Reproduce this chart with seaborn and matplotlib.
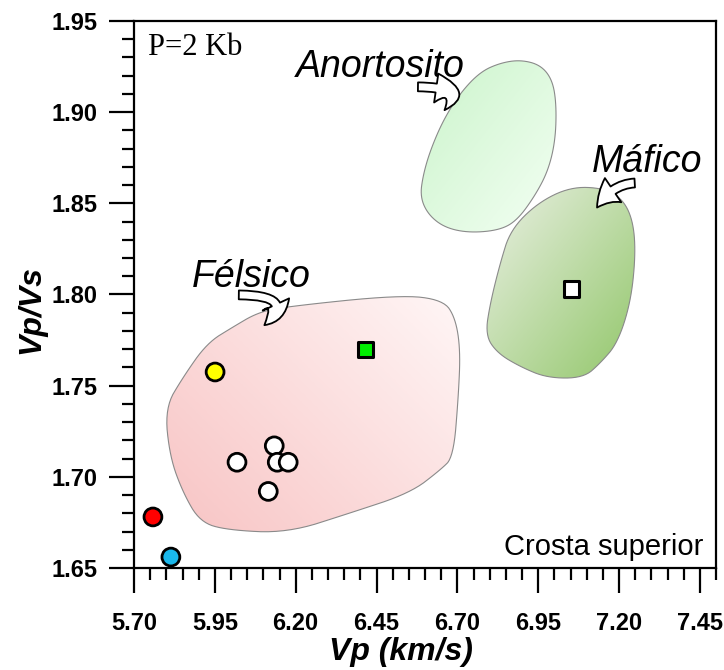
import numpy as np
import pandas as pd
import matplotlib
matplotlib.use("Agg")
import matplotlib.pyplot as plt
import seaborn as sns
from matplotlib.patches import Polygon, FancyArrowPatch
from matplotlib.colors import LinearSegmentedColormap
from matplotlib.ticker import MultipleLocator

# ---- data ----
sample_vp = [5.7586, 5.8141, 5.9508, 6.0186, 6.1338, 6.1430, 6.1769, 6.1153]
sample_ratio = [1.678, 1.656, 1.7575, 1.708, 1.717, 1.708, 1.708, 1.692]
sample_color = ["#ff0000", "#1ab8ec", "#ffff00", "#ffffff", "#ffffff", "#ffffff", "#ffffff", "#ffffff"]

ref_vp = [6.4154, 7.0527]
ref_ratio = [1.770, 1.803]
ref_color = ["#00ee00", "#ffffff"]

felsico_vp = [5.7956, 5.8110, 5.8521, 5.9045, 5.9878, 6.1738, 6.3691, 6.5542, 6.6477, 6.6878,
              6.7032, 6.7094, 6.6939, 6.6569, 6.5233, 6.1615, 6.0803, 6.0063, 5.9261, 5.8521]
felsico_ratio = [1.7378, 1.7109, 1.6911, 1.6752, 1.6708, 1.6692, 1.6802, 1.6911, 1.7038, 1.7109,
                 1.7438, 1.7696, 1.7871, 1.7970, 1.7998, 1.7932, 1.7899, 1.7822, 1.7734, 1.7548]

anort_vp = [6.5850, 6.5942, 6.6169, 6.6569, 6.7094, 6.7710, 6.8327, 6.8954, 6.9571, 6.9941,
            7.0064, 7.0033, 6.9817, 6.9417, 6.8861, 6.8327, 6.7402, 6.6631, 6.6107]
anort_ratio = [1.8535, 1.8656, 1.8793, 1.8958, 1.9106, 1.9221, 1.9270, 1.9287, 1.9259, 1.9177,
               1.9040, 1.8848, 1.8683, 1.8546, 1.8409, 1.8354, 1.8338, 1.8365, 1.8436]

mafico_vp = [6.7865, 6.8019, 6.8327, 6.8646, 6.9478, 7.0496, 7.1524, 7.2140, 7.2449, 7.2510,
             7.2356, 7.1955, 7.1431, 7.0897, 6.9787, 6.8954, 6.8235]
mafico_ratio = [1.7778, 1.7954, 1.8173, 1.8354, 1.8502, 1.8590, 1.8584, 1.8519, 1.8393, 1.8206,
                1.7954, 1.7734, 1.7625, 1.7542, 1.7542, 1.7603, 1.7679]

x_ticks = [5.70, 5.95, 6.20, 6.45, 6.70, 6.95, 7.20, 7.45]
y_ticks = [1.65, 1.70, 1.75, 1.80, 1.85, 1.90, 1.95]

# ---- style ----
sns.set_theme(style="ticks")
plt.rcParams["font.family"] = ["Liberation Sans", "DejaVu Sans"]
plt.rcParams.update({"text.color": "black", "axes.labelcolor": "black",
                     "xtick.color": "black", "ytick.color": "black"})

fig = plt.figure(figsize=(7.24, 6.70), dpi=100)
ax = fig.add_axes([134 / 724, 1 - 568 / 670, 582 / 724, 547 / 670])
XL, YL = (5.70, 7.50), (1.65, 1.95)


def smooth(x, y, n=3):
    p = np.column_stack([x, y])
    for _ in range(n):
        q = np.roll(p, -1, axis=0)
        a = 0.75 * p + 0.25 * q
        b = 0.25 * p + 0.75 * q
        p = np.empty((2 * len(a), 2))
        p[0::2] = a
        p[1::2] = b
    return p


def gradient_region(xs, ys, c_start, c_end, direction, z=1):
    verts = smooth(xs, ys)
    poly = Polygon(verts, closed=True, facecolor="none", edgecolor="#8a8a8a",
                   linewidth=0.8, zorder=z + 0.1)
    ax.add_patch(poly)
    x0, x1 = verts[:, 0].min(), verts[:, 0].max()
    y0, y1 = verts[:, 1].min(), verts[:, 1].max()
    gx, gy = np.meshgrid(np.linspace(0, 1, 200), np.linspace(0, 1, 200))
    dx, dy = direction
    t = gx * dx + gy * dy
    t = (t - t.min()) / (t.max() - t.min())
    cmap = LinearSegmentedColormap.from_list("g", [c_start, c_end])
    im = ax.imshow(t, cmap=cmap, extent=(x0, x1, y0, y1), origin="lower",
                   aspect="auto", zorder=z, interpolation="bilinear")
    clip = Polygon(verts, closed=True, transform=ax.transData)
    im.set_clip_path(clip)


gradient_region(felsico_vp, felsico_ratio, "#f8c4c4", "#fff6f6", (1, 0.8))
gradient_region(anort_vp, anort_ratio, "#cbf4cb", "#f3fff3", (1, -1))
gradient_region(mafico_vp, mafico_ratio, "#eaf0e4", "#93c76b", (1, -1))

# points
pts = pd.DataFrame({"vp": sample_vp, "r": sample_ratio, "c": sample_color})
sns.scatterplot(data=pts, x="vp", y="r", hue="c", palette={c: c for c in set(sample_color)},
                marker="o", s=165, edgecolor="black", linewidth=2.0, legend=False,
                ax=ax, zorder=5, clip_on=False)
refs = pd.DataFrame({"vp": ref_vp, "r": ref_ratio, "c": ref_color})
sns.scatterplot(data=refs, x="vp", y="r", hue="c", palette={c: c for c in ref_color},
                marker="s", s=120, edgecolor="black", linewidth=2.2, legend=False,
                ax=ax, zorder=5)

# region labels + arrows
lab_kw = dict(fontsize=27, style="italic", ha="center", va="baseline", zorder=6)
ax.text(6.4617, 1.9193, "Anortosito", **lab_kw)
ax.text(7.2881, 1.8672, "Máfico", **lab_kw)
ax.text(6.0618, 1.8041, "Félsico", **lab_kw)

arr_style = "simple,head_length=0.85,head_width=1.05,tail_width=0.32"
for (s, e, conn) in [((6.0156, 1.7998), (6.0968, 1.7822), "angle3,angleA=0,angleB=40"),
                     ((6.5696, 1.9139), (6.6539, 1.9001), "angle3,angleA=0,angleB=40"),
                     ((7.2572, 1.8612), (7.1277, 1.8464), "angle3,angleA=180,angleB=60")]:
    a = FancyArrowPatch(s, e, arrowstyle=arr_style, mutation_scale=20,
                        connectionstyle=conn, facecolor="white",
                        edgecolor="black", linewidth=1.3, zorder=6)
    ax.add_patch(a)

ax.text(0.024, 0.938, "P=2 Kb", transform=ax.transAxes, fontsize=22,
        family=["Liberation Serif", "DejaVu Serif"], ha="left", va="baseline")
ax.text(0.979, 0.024, "Crosta superior", transform=ax.transAxes, fontsize=21,
        ha="right", va="baseline")

# axes
ax.set_xlim(*XL)
ax.set_ylim(*YL)
ax.set_xticks(x_ticks)
ax.set_yticks(y_ticks)
ax.set_xticklabels([f"{v:.2f}" for v in x_ticks])
ax.set_yticklabels([f"{v:.2f}" for v in y_ticks])
ax.xaxis.set_minor_locator(MultipleLocator(0.05))
ax.yaxis.set_minor_locator(MultipleLocator(0.01))
ax.tick_params(which="major", direction="out", length=18, width=1.6, labelsize=17, color="black")
ax.tick_params(which="minor", direction="out", length=8.5, width=1.6, color="black")
ax.tick_params(axis="x", pad=14)
ax.tick_params(axis="y", pad=8)
for lbl in ax.get_xticklabels() + ax.get_yticklabels():
    lbl.set_fontweight("bold")
for sp in ax.spines.values():
    sp.set_visible(True)
    sp.set_color("black")
    sp.set_linewidth(1.6)

ax.set_xlabel("Vp (km/s)", fontsize=23, fontweight="bold", style="italic")
ax.set_ylabel("Vp/Vs", fontsize=23, fontweight="bold", style="italic")
ax.xaxis.set_label_coords(0.458, -0.127)
ax.yaxis.set_label_coords(-0.150, 0.472)
ax.xaxis.label.set_va("top")

fig.savefig("out.png", dpi=100, facecolor="white")
